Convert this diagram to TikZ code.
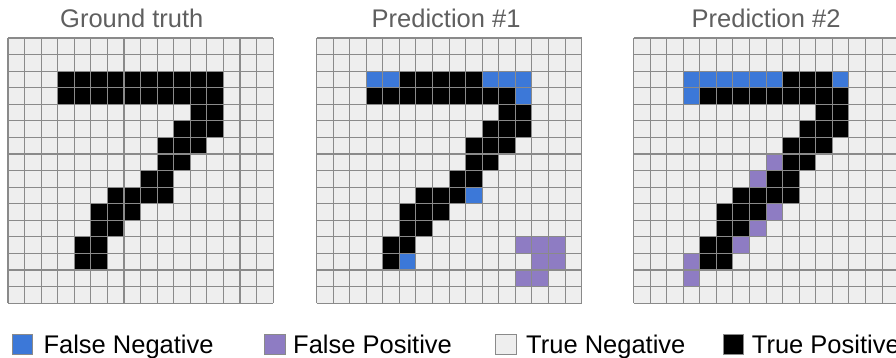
\documentclass[tikz,border=0pt]{standalone}
\usepackage{fontspec}
\setmainfont{Liberation Sans}
\definecolor{tncol}{HTML}{EEEEEE}
\definecolor{fncol}{HTML}{3C78D8}
\definecolor{fpcol}{HTML}{8E7CC3}
\definecolor{linecol}{HTML}{8A8A8A}
\definecolor{titlecol}{HTML}{5F5F5F}
\begin{document}
\begin{tikzpicture}[x=1pt,y=-1pt,
  gridline/.style={draw=linecol,line width=1.1pt},
  titletext/.style={anchor=base west,inner sep=0pt,text=titlecol,font=\fontsize{25.5}{30}\selectfont},
  legtext/.style={anchor=base west,inner sep=0pt,text=black,font=\fontsize{25.5}{30}\selectfont},
  legbox/.style={anchor=north west,inner sep=0pt,minimum size=20.6pt,draw=linecol,line width=0.8pt}]
\useasboundingbox (0,0) rectangle (896,357);
\clip (0,0) rectangle (896,357);
\def\cs{16.57}
\def\gy{38}
% ---------- grid 1: ground truth ----------
\def\gx{8}
\fill[tncol] (\gx,\gy) rectangle ({\gx+16*\cs},{\gy+16*\cs});
\foreach \r/\a/\b in {2/3/12,3/3/12,4/11/12,5/10/12,6/9/11,7/9/10,8/8/9,9/6/9,10/5/7,11/5/6,12/4/5,13/4/5}
  \fill[black] ({\gx+\a*\cs},{\gy+\r*\cs}) rectangle ({\gx+(\b+1)*\cs},{\gy+(\r+1)*\cs});
\foreach \i in {0,...,16}{
  \draw[gridline] ({\gx+\i*\cs},\gy) -- ({\gx+\i*\cs},{\gy+16*\cs});
  \draw[gridline] (\gx,{\gy+\i*\cs}) -- ({\gx+16*\cs},{\gy+\i*\cs});}
% ---------- grid 2: prediction 1 ----------
\def\gx{316.5}
\fill[tncol] (\gx,\gy) rectangle ({\gx+16*\cs},{\gy+16*\cs});
\foreach \r/\a/\b in {2/5/9,3/3/11,4/11/12,5/10/12,6/9/11,7/9/10,8/8/9,9/6/8,10/5/7,11/5/6,12/4/5,13/4/4}
  \fill[black] ({\gx+\a*\cs},{\gy+\r*\cs}) rectangle ({\gx+(\b+1)*\cs},{\gy+(\r+1)*\cs});
\foreach \r/\a/\b in {2/3/4,2/10/12,3/12/12,9/9/9,13/5/5}
  \fill[fncol] ({\gx+\a*\cs},{\gy+\r*\cs}) rectangle ({\gx+(\b+1)*\cs},{\gy+(\r+1)*\cs});
\foreach \r/\a/\b in {12/12/14,13/13/14,14/12/13}
  \fill[fpcol] ({\gx+\a*\cs},{\gy+\r*\cs}) rectangle ({\gx+(\b+1)*\cs},{\gy+(\r+1)*\cs});
\foreach \i in {0,...,16}{
  \draw[gridline] ({\gx+\i*\cs},\gy) -- ({\gx+\i*\cs},{\gy+16*\cs});
  \draw[gridline] (\gx,{\gy+\i*\cs}) -- ({\gx+16*\cs},{\gy+\i*\cs});}
% ---------- grid 3: prediction 2 ----------
\def\gx{633.5}
\fill[tncol] (\gx,\gy) rectangle ({\gx+16*\cs},{\gy+16*\cs});
\foreach \r/\a/\b in {2/9/11,3/4/12,4/11/12,5/10/12,6/9/11,7/9/10,8/8/9,9/6/9,10/5/7,11/5/6,12/4/5,13/4/5}
  \fill[black] ({\gx+\a*\cs},{\gy+\r*\cs}) rectangle ({\gx+(\b+1)*\cs},{\gy+(\r+1)*\cs});
\foreach \r/\a/\b in {2/3/8,2/12/12,3/3/3}
  \fill[fncol] ({\gx+\a*\cs},{\gy+\r*\cs}) rectangle ({\gx+(\b+1)*\cs},{\gy+(\r+1)*\cs});
\foreach \r/\a/\b in {7/8/8,8/7/7,10/8/8,11/7/7,12/6/6,13/3/3,14/3/3}
  \fill[fpcol] ({\gx+\a*\cs},{\gy+\r*\cs}) rectangle ({\gx+(\b+1)*\cs},{\gy+(\r+1)*\cs});
\foreach \i in {0,...,16}{
  \draw[gridline] ({\gx+\i*\cs},\gy) -- ({\gx+\i*\cs},{\gy+16*\cs});
  \draw[gridline] (\gx,{\gy+\i*\cs}) -- ({\gx+16*\cs},{\gy+\i*\cs});}
% ---------- titles ----------
\node[titletext] (t1) at (60,27) {Ground truth};
\node[titletext] (t2) at (371.5,27) {Prediction \#1};
\node[titletext] (t3) at (691.5,27) {Prediction \#2};
% ---------- legend ----------
\node[legbox,fill=fncol] (b1) at (11.7,333.5) {};
\node[legtext] (l1) at (43.3,353.3) {False Negative};
\node[legbox,fill=fpcol] (b2) at (264,333.5) {};
\node[legtext] (l2) at (293,353.3) {False Positive};
\node[legbox,fill=tncol] (b3) at (495,333.5) {};
\node[legtext] (l3) at (526,353.3) {True Negative};
\node[legbox,fill=black] (b4) at (722.7,333.5) {};
\node[legtext] (l4) at (751.7,353.3) {True Positive};
\end{tikzpicture}
\end{document}
